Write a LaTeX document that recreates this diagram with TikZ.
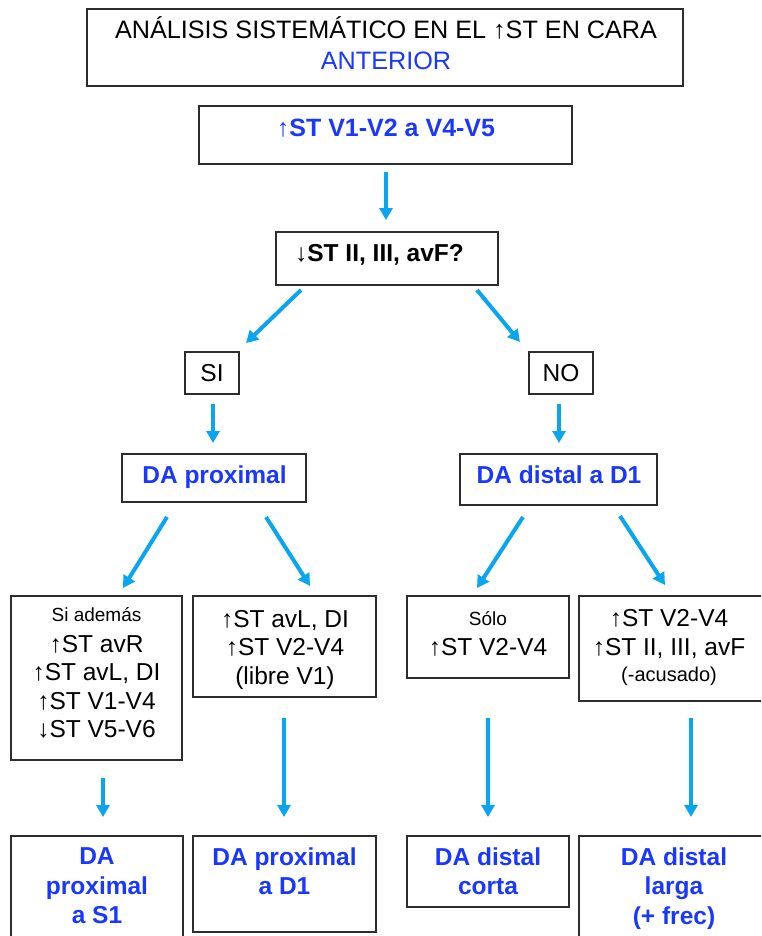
\documentclass[tikz,border=0pt]{standalone}
\usepackage{fontspec}
\setmainfont{Liberation Sans}
\usetikzlibrary{arrows.meta}
\definecolor{flowblue}{RGB}{10,165,240}
\definecolor{textblue}{RGB}{25,55,255}
\definecolor{edgegray}{RGB}{45,45,45}
% thin arrows inside the labels, also in bold lines
\newcommand\upar{{\mdseries ↑}}
\newcommand\dnar{{\mdseries ↓}}

\begin{document}
\begin{tikzpicture}[x=1pt,y=-1pt,
  box/.style={draw=edgegray, line width=1.3pt, rectangle, inner sep=0pt},
  txt/.style={inner sep=0pt, align=center},
  reg/.style={font=\fontsize{24.5}{28.5}\selectfont},
  bld/.style={font=\fontsize{24.5}{29.5}\selectfont\bfseries},
  stack/.style={anchor=north, execute at begin node={\rule{0pt}{1em}}},
  flow/.style={draw=flowblue, line width=4pt, -{Triangle[length=12pt,width=13pt]}}
]
\fill[white] (0,0) rectangle (761,936);
\useasboundingbox (0,0) rectangle (761,936);
\clip (0,0) rectangle (761,936);

% ---- boxes ----
\node[box, minimum width=596pt, minimum height=77pt] (title) at (385,47.5) {};
\node[box, minimum width=373pt, minimum height=58pt] (q1) at (385.5,135) {};
\node[box, minimum width=222pt, minimum height=53pt] (q2) at (387,258.5) {};
\node[box, minimum width=54pt, minimum height=42pt] (si) at (212,373) {};
\node[box, minimum width=64pt, minimum height=42pt] (no) at (561,373) {};
\node[box, minimum width=184pt, minimum height=48pt] (dap) at (214,478) {};
\node[box, minimum width=197pt, minimum height=51pt] (dad) at (558.5,479.5) {};
\node[box, minimum width=171pt, minimum height=164pt] (ca) at (96.5,678) {};
\node[box, minimum width=183pt, minimum height=101pt] (cb) at (284.5,646.5) {};
\node[box, minimum width=162pt, minimum height=82pt] (cc) at (488,637) {};
\node[box, minimum width=184pt, minimum height=105pt] (cd) at (671,648.5) {};
\node[box, minimum width=172pt, minimum height=101pt] (ra) at (97,886.5) {};
\node[box, minimum width=183pt, minimum height=96pt] (rb) at (284.5,884) {};
\node[box, minimum width=162pt, minimum height=71pt] (rc) at (488,871.5) {};
\node[box, minimum width=184pt, minimum height=101pt] (rd) at (671,886.5) {};

% ---- labels ----
\node[txt, stack, font=\fontsize{25.2}{31.5}\selectfont] (titlet) at (386,16.3)
  {ANÁLISIS SISTEMÁTICO EN EL \upar ST EN CARA\\\textcolor{textblue}{ANTERIOR}};
\node[txt, anchor=base, text=textblue, font=\fontsize{25}{29.5}\selectfont\bfseries] (q1t) at (386,136.8) {\upar ST V1-V2 a V4-V5};
\node[txt, bld, anchor=base] (q2t) at (379.5,261.8) {\dnar ST II, III, avF?};
\node[txt, reg, anchor=base] (sit) at (212,381.8) {SI};
\node[txt, reg, anchor=base] (not) at (561,381.8) {NO};
\node[txt, bld, anchor=base, text=textblue] (dapt) at (214.5,483.8) {DA proximal};
\node[txt, bld, anchor=base, text=textblue] (dadt) at (559,483.8) {DA distal a D1};

\node[txt, reg, stack] (cat) at (96.5,607.3)
  {{\fontsize{19}{28.5}\selectfont Si además}\\[2.5pt]
   \upar ST avR\\ \upar ST avL, DI\\ \upar ST V1-V4\\ \dnar ST V5-V6};
\node[txt, reg, stack] (cbt) at (285,609.8)
  {\upar ST avL, DI\\ \upar ST V2-V4\\ (libre V1)};
\node[txt, reg, stack] (cct) at (488,611.3)
  {{\fontsize{19}{28.5}\selectfont Sólo}\\[1.5pt] \upar ST V2-V4};
\node[txt, reg, stack] (cdt) at (669,609.3)
  {\upar ST V2-V4\\ \upar ST II, III, avF\\[-2pt] {\fontsize{20}{28.5}\selectfont (-acusado)}};

\node[txt, bld, stack, text=textblue] (rat) at (97,847.5) {DA\\ proximal\\ a S1};
\node[txt, bld, stack, text=textblue] (rbt) at (284.5,847.5) {DA proximal\\ a D1};
\node[txt, bld, stack, text=textblue] (rct) at (488,847.5) {DA distal\\ corta};
\node[txt, bld, stack, text=textblue] (rdt) at (674,847.5) {DA distal\\ larga\\ (+ frec)};

% ---- connector ends ----
\coordinate (a1s) at (386,172);  \coordinate (a1e) at (386,220);
\coordinate (a2s) at (301,290);  \coordinate (a2e) at (246,343);
\coordinate (a3s) at (477,290);  \coordinate (a3e) at (520,342);
\coordinate (a4s) at (213,404);  \coordinate (a4e) at (213,443);
\coordinate (a5s) at (559,404);  \coordinate (a5e) at (559,443);
\coordinate (a6s) at (167,517);  \coordinate (a6e) at (123,588);
\coordinate (a7s) at (266,517);  \coordinate (a7e) at (310,586);
\coordinate (a8s) at (523,517);  \coordinate (a8e) at (477,588);
\coordinate (a9s) at (620,516);  \coordinate (a9e) at (665,585);
\coordinate (b1s) at (103,778);  \coordinate (b1e) at (103,817);
\coordinate (b2s) at (284,718);  \coordinate (b2e) at (284,817);
\coordinate (b3s) at (488,718);  \coordinate (b3e) at (488,817);
\coordinate (b4s) at (691,718);  \coordinate (b4e) at (691,817);

% ---- connectors ----
\foreach \a in {a1,a2,a3,a4,a5,a6,a7,a8,a9,b1,b2,b3,b4}
  \draw[flow] (\a s) -- (\a e);
\end{tikzpicture}
\end{document}
